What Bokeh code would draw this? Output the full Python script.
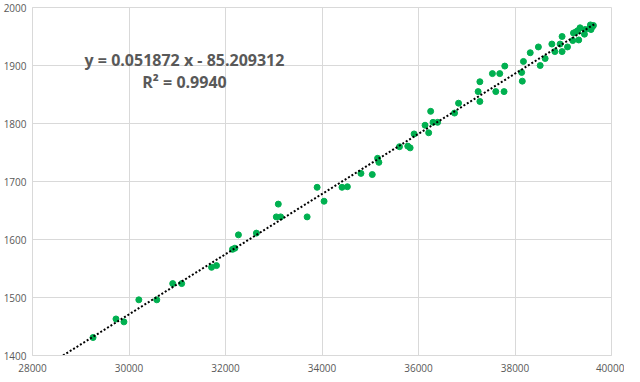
from bokeh.plotting import figure
from bokeh.models import FixedTicker, Label, Range1d
from bokeh.embed import file_html
from bokeh.resources import INLINE

# ---- data ----
x_vals = [29255, 29730, 29895, 30204, 30576, 30906, 31092, 31711, 31814, 32145,
          32194, 32268, 32640, 33053, 33094, 33143, 33692, 33899, 34043, 34415,
          34526, 34807, 35042, 35152, 35179, 35606, 35777, 35827, 35909, 36136,
          36211, 36252, 36301, 36396, 36747, 36830, 37236, 37272, 37272, 37532,
          37602, 37684, 37773, 37788, 38138, 38151, 38175, 38316, 38485, 38522,
          38625, 38764, 38826, 38935, 38976, 38976, 39088, 39197, 39212, 39265,
          39300, 39348, 39321, 39439, 39451, 39542, 39575, 39604, 39625, 39563]
y_vals = [1431, 1463, 1458, 1496, 1496, 1524, 1524, 1552, 1555, 1583,
          1585, 1608, 1611, 1639, 1661, 1639, 1639, 1690, 1666, 1690,
          1691, 1714, 1712, 1740, 1733, 1760, 1761, 1758, 1782, 1797,
          1784, 1821, 1802, 1802, 1818, 1835, 1855, 1872, 1838, 1886,
          1855, 1886, 1855, 1899, 1888, 1873, 1907, 1922, 1932, 1900,
          1912, 1937, 1924, 1937, 1950, 1924, 1932, 1943, 1956, 1958,
          1960, 1965, 1944, 1954, 1962, 1964, 1962, 1967, 1969, 1970]

slope = 0.051872
intercept = -85.209312
r_squared = 0.9940
trend_x = [28632, 39660]
trend_y = [slope * v + intercept for v in trend_x]

x_ticks = [28000, 30000, 32000, 34000, 36000, 38000, 40000]
y_ticks = [1400, 1500, 1600, 1700, 1800, 1900, 2000]

grid_col = "#d9d9d9"
text_col = "#595959"
font = "Open Sans"

p = figure(width=624, height=374, output_backend="svg", toolbar_location=None,
           x_range=Range1d(x_ticks[0], x_ticks[-1]),
           y_range=Range1d(y_ticks[0], y_ticks[-1]),
           min_border_left=30, min_border_right=13,
           min_border_top=7, min_border_bottom=0)

p.background_fill_color = "white"
p.border_fill_color = "white"
p.outline_line_color = grid_col

for ax in (p.xaxis, p.yaxis):
    ax.axis_line_color = grid_col
    ax.major_tick_line_color = None
    ax.minor_tick_line_color = None
    ax.major_tick_out = 0
    ax.major_tick_in = 0
    ax.minor_tick_out = 0
    ax.minor_tick_in = 0
    ax.major_label_text_color = text_col
    ax.major_label_text_font = font
    ax.major_label_text_font_size = "10px"

p.xaxis.ticker = FixedTicker(ticks=x_ticks)
p.yaxis.ticker = FixedTicker(ticks=y_ticks)
p.xaxis.major_label_standoff = 8
p.yaxis.major_label_standoff = 6

p.xgrid.grid_line_color = grid_col
p.ygrid.grid_line_color = grid_col
p.xgrid.ticker = FixedTicker(ticks=x_ticks)
p.ygrid.ticker = FixedTicker(ticks=y_ticks)

p.scatter(x_vals, y_vals, size=6, fill_color="#00b050", line_color="#00b050")
p.line(trend_x, trend_y, line_color="black", line_width=2, line_dash="2 2")

eq1 = f"y = {slope} x - {abs(intercept)}"
eq2 = f"R\u00b2 = {r_squared:.4f}"
for txt, yy in ((eq1, 1910), (eq2, 1871)):
    p.add_layout(Label(x=31150, y=yy, text=txt, text_align="center",
                       text_baseline="middle", text_font=font,
                       text_font_style="bold", text_font_size="16px",
                       text_color=text_col))

open("out.html", "w").write(file_html(p, INLINE))
